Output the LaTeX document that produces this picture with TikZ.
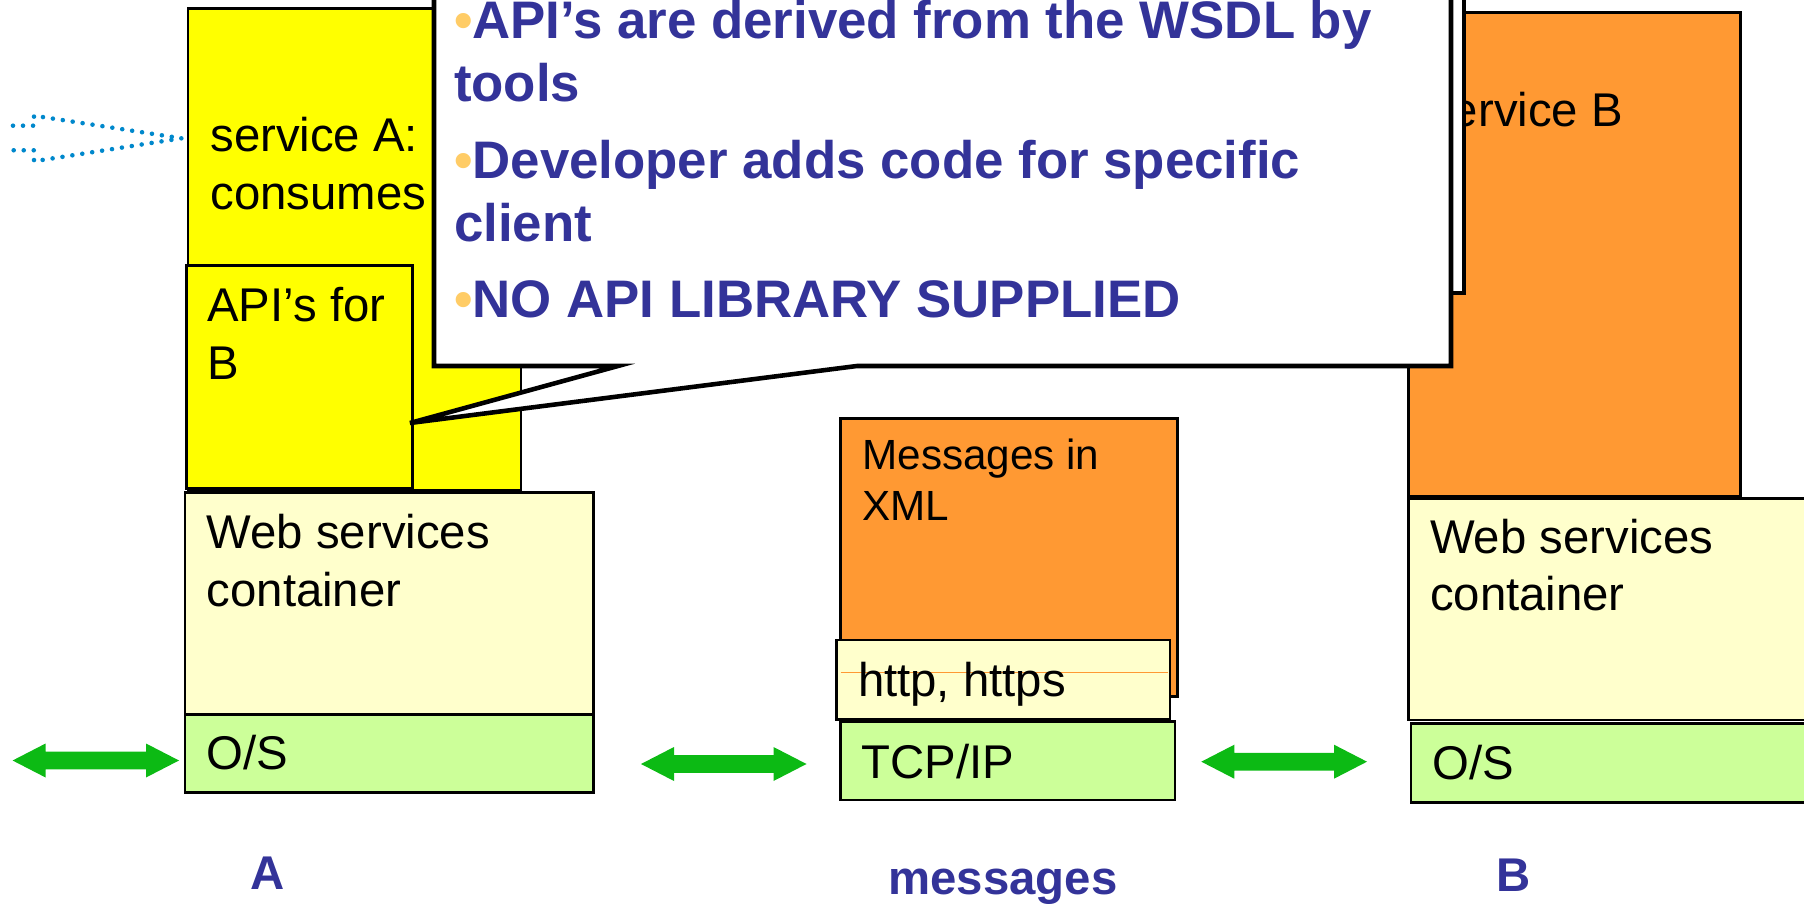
\documentclass[tikz,border=0pt]{standalone}
\usepackage{fontspec}
\setmainfont{Liberation Sans}

\definecolor{svcyellow}{HTML}{FFFF00}
\definecolor{paleyellow}{HTML}{FFFFCC}
\definecolor{palegreen}{HTML}{CCFF99}
\definecolor{orangebox}{HTML}{FF9933}
\definecolor{navytext}{HTML}{333399}
\definecolor{bulletgold}{HTML}{FFCC66}
\definecolor{arrowgreen}{RGB}{12,186,20}
\definecolor{dotblue}{HTML}{0088CC}

\newcommand\calloutbullet{{\color{bulletgold}•}}

\tikzset{
  layer/.style={draw=black, line width=0.8pt},
  boxtext/.style={anchor=base west, inner sep=0pt, text=black,
    font=\fontsize{13.46}{16.36}\selectfont},
  smalltext/.style={anchor=base west, inner sep=0pt, text=black,
    font=\fontsize{12}{14.23}\selectfont},
  calloutline/.style={draw=black, line width=1.3pt, fill=white},
  calloutbody/.style={anchor=base west, inner sep=0pt, text=navytext,
    font=\fontsize{15.02}{18.04}\selectfont\bfseries},
  caption/.style={anchor=base, inner sep=0pt, text=navytext,
    font=\fontsize{13.46}{16}\selectfont\bfseries},
  blockarrow/.style={fill=arrowgreen, draw=none},
  dottedarrow/.style={draw=dotblue, line width=1.3pt, line cap=round,
    dash pattern=on 0pt off 2.85pt}
}

\begin{document}
\begin{tikzpicture}[x=0.01cm, y=-0.01cm]
\useasboundingbox (0,0) rectangle (1804,904);
\clip (0,0) rectangle (1804,904);

% --- stack A
\draw[layer, fill=svcyellow]  (188,8.3)    rectangle (521,490);
\draw[layer, fill=svcyellow]  (186.4,265.7) rectangle (412.6,488.5);
\draw[layer, fill=paleyellow] (185,492.7)  rectangle (593.7,714.3);
\draw[layer, fill=palegreen]  (185,714.3)  rectangle (593.7,792.7);

\node[boxtext] (svcA) at (209.7,151.7) {\vtop{\hbox{service A:}\hbox{consumes}}};
\node[boxtext] (apiB) at (206.7,321.7) {\vtop{\hbox{API’s for}\hbox{B}}};
\node[boxtext] (wscA) at (206,549)     {\vtop{\hbox{Web services}\hbox{container}}};
\node[boxtext] (osA)  at (206,769)     {O/S};

% --- message stack
\draw[layer, fill=orangebox]  (840.7,418.3) rectangle (1177.3,696.7);
\draw[layer, fill=paleyellow] (836.7,640)   rectangle (1170,719.3);
\draw[orangebox, line width=0.3pt] (840.7,672.3) -- (1168,672.3);
\draw[layer, fill=palegreen]  (840.7,721.7) rectangle (1175,800);

\node[smalltext] (msgXML) at (861.7,470)   {\vtop{\hbox{Messages in}\hbox{XML}}};
\node[boxtext]   (proto)  at (857.3,696.7) {http, https};
\node[boxtext]   (tcp)    at (861,778.3)   {TCP/IP};

% --- stack B
\draw[layer, fill=orangebox]  (1408.3,12.7)  rectangle (1740.7,496);
\draw[layer, fill=paleyellow] (1408.3,498.3) rectangle (1830,720);
\draw[layer, fill=palegreen]  (1411,723.3)   rectangle (1830,802.7);

\node[boxtext] (svcB) at (1427.6,126.7) {service B};
\node[boxtext] (wscB) at (1429.3,553.3) {\vtop{\hbox{Web services}\hbox{container}}};
\node[boxtext] (osB)  at (1431.7,779.3) {O/S};

% --- callout with its tail on the API box
\draw[draw=black, line width=1.4pt, fill=white] (700,-40) rectangle (1464,293);
\draw[calloutline] (434,-40) -- (1451,-40) -- (1451,366) -- (857,366)
  -- (410,423) -- (618,366) -- (434,366) -- cycle;

\node[calloutbody] (notes) at (453.3,38.3) {\vtop{%
  \hbox{\calloutbullet API’s are derived from the WSDL by}
  \hbox{tools}
  \vskip 3.7pt
  \hbox{\calloutbullet Developer adds code for specific}
  \hbox{client}
  \vskip 3.4pt
  \hbox{\calloutbullet NO API LIBRARY SUPPLIED}}};

% --- dotted outline arrow into service A
\draw[dottedarrow] (13,125.7) -- (34,125.7) -- (34,115.7) -- (181.5,138.3)
  -- (34,161.3) -- (34,150.3) -- (13,150.3);

% --- double-headed transfer arrows
\foreach \xa/\xb/\yc in {12.6/179/760.5, 641/806.5/764, 1201.3/1367/761.7}
  \fill[blockarrow] (\xa,\yc) -- ({\xa+33},{\yc-17}) -- ({\xa+33},{\yc-8.8})
    -- ({\xb-33},{\yc-8.8}) -- ({\xb-33},{\yc-17}) -- (\xb,\yc)
    -- ({\xb-33},{\yc+17}) -- ({\xb-33},{\yc+8.8}) -- ({\xa+33},{\yc+8.8})
    -- ({\xa+33},{\yc+17}) -- cycle;

% --- captions
\node[caption] (capA)   at (267.5,889) {A};
\node[caption] (capMsg) at (1003,894)  {messages};
\node[caption] (capB)   at (1513.5,891) {B};
\end{tikzpicture}
\end{document}
